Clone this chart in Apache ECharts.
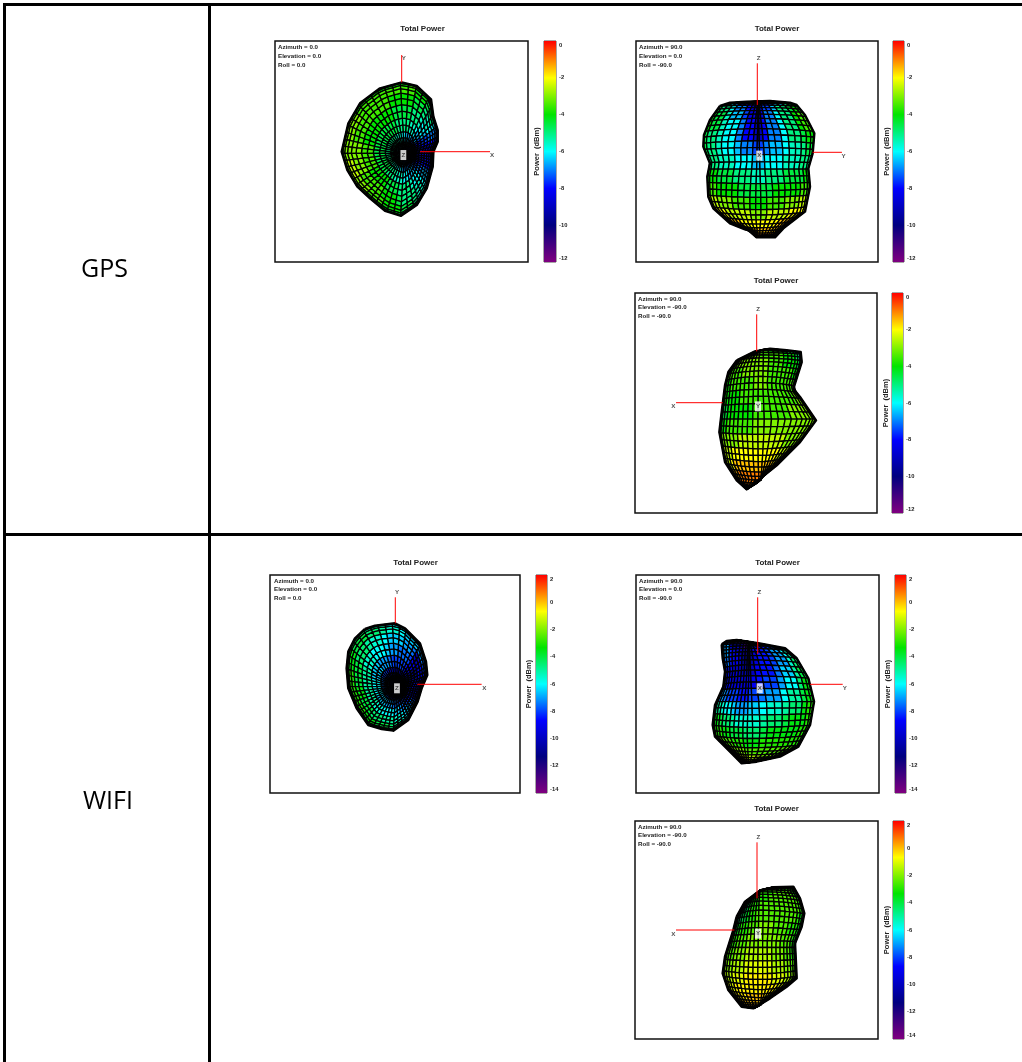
<!DOCTYPE html>
<html><head><meta charset="utf-8">
<style>html,body{margin:0;padding:0;background:#fff}#c{width:1022px;height:1062px}</style>
<script src="https://cdn.jsdelivr.net/npm/echarts@6/dist/echarts.min.js"></script>
</head><body><div id="c"></div>
<script>
// Outlines of each radiation lobe, in plot units from the axes' crossing (x right, y up)
const p1Outline=[[0,208],[45,197],[88,157],[95,105],[108,65],[108,30],[95,0],[93,-45],[75,-110],[45,-160],[-2,-192],[-50,-177],[-95,-140],[-133,-105],[-163,-55],[-180,0],[-160,85],[-125,145],[-65,190]];
const p2Outline=[[-112,139],[-82,149],[-32,152],[38,154],[98,149],[118,142],[143,112],[171,57],[166,-3],[153,-48],[158,-103],[143,-178],[78,-228],[53,-255],[-2,-255],[-27,-233],[-37,-231],[-82,-213],[-132,-168],[-147,-133],[-150,-73],[-142,-33],[-162,17],[-160,52],[-142,97]];
const p3Outline=[[-60,127],[-5,154],[40,162],[90,157],[132,152],[135,122],[110,42],[130,17],[178,-53],[130,-118],[60,-188],[-30,-260],[-60,-233],[-95,-178],[-112,-88],[-105,-28],[-95,52],[-85,92]];
const p4Outline=[[-91,166],[-61,176],[-1,183],[29,168],[74,123],[92,68],[96,28],[79,-12],[67,-52],[39,-107],[-6,-139],[-41,-134],[-81,-122],[-116,-72],[-141,-12],[-146,48],[-141,98],[-121,138]];
const p5Outline=[[-108,120],[-93,130],[-63,133],[2,123],[82,108],[117,78],[152,18],[169,-52],[157,-122],[122,-187],[67,-217],[-3,-232],[-48,-237],[-83,-202],[-128,-157],[-135,-122],[-128,-62],[-103,-7],[-98,38],[-105,78]];
const p6Outline=[[-61,40],[-36,85],[4,115],[49,128],[109,130],[129,95],[142,50],[134,10],[114,-40],[116,-80],[119,-145],[89,-170],[39,-205],[-11,-235],[-46,-230],[-86,-180],[-103,-130],[-96,-80],[-71,0]];

// Power in dBm. Polar views: one row per 10-degree sector (counter-clockwise from +X), inner to outer ring.
const p1Power=[
[-11,-10,-10,-9.5,-9,-9,-9,-9],[-11,-10,-10,-9,-9,-8.5,-8.5,-9],[-11,-10,-9,-8.5,-8,-8,-8,-9],[-11,-9,-8.5,-8,-7.5,-7,-7,-8],
[-10,-9,-8,-7.5,-6.5,-6,-6,-7],[-10,-8.5,-7.5,-6.5,-6,-5.5,-5,-5.5],[-9,-8,-7,-6,-5.5,-5,-4.5,-5],[-9,-7.5,-6.5,-5.5,-5,-4.5,-4,-4],
[-9,-7.5,-6.5,-5,-4.5,-4,-3.5,-3.5],[-8.5,-7,-6,-5,-4.5,-4,-3.5,-4],[-8,-6.5,-5.5,-5,-4.5,-4,-3.5,-4],[-8,-6.5,-5.5,-4.5,-4,-3.5,-3.5,-4],
[-8,-6,-5,-4.5,-4,-3.5,-3.5,-4],[-8,-6,-5,-4.5,-4,-3.5,-3.5,-4],[-8,-6,-5,-4.5,-4,-3.5,-3,-3.5],[-8,-6,-5,-4.5,-4,-3.5,-3,-3],
[-8,-6,-5,-4.5,-4,-3.5,-3,-3],[-8,-6,-5,-4.5,-3.5,-3,-3,-3],[-8,-6,-5,-4.5,-3.5,-3,-3,-3],[-8,-6,-5,-4.5,-3.5,-3,-2.5,-3],
[-8,-6,-5,-4.5,-3.5,-3,-2.5,-3],[-8,-6,-5,-4.5,-4,-3.5,-3,-3],[-8,-6.5,-5.5,-4.5,-4,-3.5,-3,-3.5],[-8.5,-7,-5.5,-5,-4,-3.5,-3.5,-4],
[-8.5,-7,-6,-5,-4.5,-4,-3.5,-4],[-9,-7,-6,-5.5,-4.5,-4,-4,-4.5],[-9,-7.5,-6.5,-5.5,-5,-4.5,-4,-4.5],[-9.5,-8,-7,-6,-5,-5,-4.5,-5],
[-10,-8,-7,-6.5,-5.5,-5,-5,-5],[-10,-8.5,-7.5,-6.5,-6,-5.5,-5.5,-5.5],[-10,-9,-8,-7,-6,-6,-6,-6],[-10.5,-9,-8.5,-7.5,-7,-6.5,-6.5,-7],
[-11,-9.5,-9,-8,-7.5,-7,-7,-7.5],[-11,-10,-9,-8.5,-8,-8,-8,-8],[-11,-10,-9.5,-9,-8.5,-8.5,-8.5,-8.5],[-11,-10,-10,-9.5,-9,-9,-9,-9]];
const p4Power=[
[-12,-11,-10.5,-10,-9.5,-9.5,-9.5,-10],[-12,-11,-10.5,-10,-9.5,-9,-9,-9.5],[-12,-11.5,-11,-10.5,-10,-9,-8.5,-9],[-12,-12,-11.5,-11.5,-11,-9,-8,-8.5],
[-12,-11.5,-11,-10.5,-11,-10,-7.5,-8],[-12,-11,-10,-9,-9,-10,-7,-7.5],[-12,-10.5,-9.5,-8.5,-8,-7.5,-6.5,-6.5],[-12,-10.5,-9,-8,-7.5,-7,-6.5,-6.5],
[-12,-10,-9,-8,-7.5,-6.5,-6,-6],[-11.5,-10,-9,-8,-7,-6.5,-5.5,-6],[-11.5,-10,-8.5,-7.5,-6.5,-6,-5,-5],[-11,-9.5,-8.5,-7,-6,-5.5,-4.5,-5],
[-11,-9.5,-8,-7,-6,-5,-4,-4.5],[-11,-9,-8,-6.5,-5.5,-4.5,-4,-4],[-11,-9,-8,-6.5,-5.5,-4.5,-3.5,-4],[-11,-9,-7.5,-6.5,-5,-4,-3.5,-3.5],
[-11,-9,-7.5,-6,-5,-4,-3,-3.5],[-11,-9,-7.5,-6,-5,-4,-3,-3],[-11,-9,-7.5,-6,-5,-3.5,-3,-3],[-11,-9,-7.5,-6,-5,-3.5,-3,-3],
[-11,-9,-7.5,-6,-5,-4,-3,-3.5],[-11,-9,-8,-6.5,-5,-4,-3,-3.5],[-11,-9,-8,-6.5,-5.5,-4,-3.5,-3.5],[-11,-9.5,-8,-6.5,-5.5,-4.5,-3.5,-4],
[-11.5,-9.5,-8,-7,-6,-4.5,-4,-4],[-11.5,-10,-8.5,-7,-6,-5,-4,-4.5],[-11.5,-10,-8.5,-7.5,-6,-5,-4.5,-4.5],[-12,-10,-9,-7.5,-6.5,-5.5,-5,-5],
[-12,-10.5,-9,-8,-7,-6,-5.5,-5.5],[-12,-10.5,-9.5,-8,-7.5,-6.5,-6,-6],[-12,-11,-9.5,-8.5,-8,-7,-6.5,-7],[-12,-11,-10,-9,-8.5,-7.5,-7,-7.5],
[-12,-11,-10,-9.5,-9,-8,-8,-8.5],[-12,-11,-10.5,-10,-9,-9,-9,-9],[-12,-11,-10.5,-10,-9.5,-9.5,-9.5,-10],[-12,-11,-10.5,-10,-9.5,-9.5,-9.5,-10]];
// Front views: one row per band, top to bottom, left to right across the lobe.
const p2Power=[
[-6,-8,-9,-10,-10,-11,-11.5,-11.5,-11,-10,-9,-8,-7,-6],
[-5,-6,-7,-8,-9,-10,-11,-11,-10,-8.5,-7.5,-6.5,-5,-4.5],
[-4.5,-5,-6,-7,-8,-9,-10.5,-10.5,-9,-7.5,-6.5,-5,-4.5,-4],
[-4,-4.5,-5.5,-6.5,-7.5,-8.5,-10,-10,-8.5,-7,-6,-5,-4,-3.5],
[-4,-4.5,-5.5,-6,-7,-8,-9.5,-9.5,-8,-7,-6,-5,-4,-3.5],
[-4.5,-5,-5.5,-6,-7,-8,-9,-9,-8,-7,-6,-5,-4.5,-4],
[-4.5,-5,-5.5,-6,-6.5,-7,-7.5,-7.5,-7,-6.5,-6,-5.5,-5,-4.5],
[-5,-5,-5.5,-5.5,-6,-6,-6.5,-6.5,-6,-6,-5.5,-5.5,-5,-5],
[-4,-4,-4.5,-4.5,-5,-5,-5.5,-5.5,-5,-5,-4.5,-4.5,-4.5,-4],
[-3.5,-3.5,-4,-4,-4,-4.5,-4.5,-4.5,-4.5,-4,-4,-4,-3.5,-3.5],
[-2.5,-2.5,-3,-3,-3.5,-3.5,-4,-4,-3.5,-3.5,-3,-3,-2.5,-2.5],
[-2,-2,-2,-2.5,-2.5,-2.5,-3,-3,-2.5,-2.5,-2.5,-2,-2,-2],
[-1.5,-1.5,-1.5,-1.5,-2,-2,-2,-2,-2,-2,-1.5,-1.5,-1.5,-1.5],
[-1.5,-1.5,-1.5,-1.5,-1.5,-1.5,-1.5,-1.5,-1.5,-1.5,-1.5,-1.5,-1.5,-1.5],
[-1,-1,-1,-1,-1,-1,-1,-1,-1,-1,-1,-1,-1,-1],
[-1,-1,-1,-1,-1,-1,-1,-1,-1,-1,-1,-1,-1,-1]];
const p3Power=[
[-4.5,-4.5,-4.5,-4.5,-4.5,-4.5,-4.5,-4.5,-5,-5,-5,-5,-5.5,-6],
[-4,-4,-3.5,-3.5,-3.5,-3.5,-3.5,-3.5,-4,-4,-4,-4.5,-5,-5.5],
[-4,-3.5,-3.5,-3,-3,-3,-3,-3.5,-3.5,-3.5,-4,-4,-4.5,-5],
[-4,-3.5,-3,-3,-3,-3,-3,-3,-3.5,-3.5,-4,-4,-4,-4.5],
[-4,-3.5,-3.5,-3.5,-3,-3,-3,-3,-3.5,-3.5,-3.5,-3.5,-4,-4],
[-4,-4,-3.5,-3.5,-3.5,-3.5,-3,-3,-3.5,-3.5,-3.5,-3.5,-3.5,-3.5],
[-4.5,-4,-4,-4,-3.5,-3.5,-3.5,-3.5,-3.5,-3.5,-3.5,-3.5,-3,-3],
[-4.5,-4.5,-4,-4,-4,-4,-3.5,-3.5,-3.5,-3.5,-3,-3,-3,-3],
[-4,-4,-3.5,-3.5,-3.5,-3.5,-3,-3,-3,-3,-3,-3,-3,-3],
[-3.5,-3,-3,-3,-2.5,-2.5,-2.5,-2.5,-2.5,-2.5,-3,-3,-3,-3],
[-3,-2.5,-2.5,-2,-2,-2,-2,-2,-2,-2,-2.5,-2.5,-2.5,-3],
[-2.5,-2.5,-2,-1.5,-1.5,-1.5,-1.5,-1.5,-1.5,-1.5,-2,-2,-2.5,-2.5],
[-2,-1.5,-1.5,-1,-1,-1,-1,-1,-1,-1,-1.5,-1.5,-2,-2],
[-1.5,-1.5,-1,-1,-1,-1,-1,-1,-1,-1,-1,-1.5,-1.5,-2],
[-1.5,-1,-1,-1,-1,-1,-1,-1,-1,-1,-1,-1,-1.5,-1.5],
[-1,-1,-1,-1,-1,-1,-1,-1,-1,-1,-1,-1,-1,-1.5]];
const p5Power=[
[-8,-10,-12,-13,-13,-13,-13,-13,-13,-12,-11,-10,-9,-8],
[-6,-8,-11,-12,-13,-13,-13,-13,-12,-11,-10,-9,-8,-7],
[-6,-7,-9,-10.5,-11.5,-12.5,-13,-12.5,-11,-10,-9,-8,-7,-6],
[-6.5,-7,-8.5,-9.5,-10.5,-11.5,-12,-11,-9.5,-8.5,-8,-7,-6,-5],
[-7,-7.5,-8.5,-9,-10,-11,-11.5,-10.5,-9.5,-8.5,-8,-7,-5.5,-4.5],
[-8,-8.5,-9,-9.5,-10,-10.5,-11,-10,-9,-8.5,-7.5,-6.5,-5,-4],
[-8,-8.5,-9,-9.5,-9.5,-9.5,-9.5,-9,-8.5,-8,-7,-6,-4.5,-3.5],
[-6.5,-7,-7.5,-8,-8,-8.5,-8.5,-8,-7.5,-7,-6,-5,-4,-3.5],
[-4.5,-5,-5.5,-6,-6.5,-7,-7,-6.5,-6,-5.5,-5,-4.5,-3.5,-3],
[-3.5,-3.5,-4,-4.5,-5,-5.5,-5.5,-5.5,-5,-4.5,-4,-3.5,-3.5,-3],
[-3,-3,-3,-3.5,-4,-4,-4.5,-4.5,-4,-3.5,-3.5,-3.5,-3,-3],
[-2,-2,-2.5,-2.5,-3,-3,-3.5,-3.5,-3,-3,-3,-3,-3,-3],
[-1.5,-1.5,-1.5,-2,-2,-2,-2.5,-2.5,-2.5,-2.5,-2.5,-2.5,-2.5,-2.5],
[-1,-1,-1,-1,-1,-1,-1.5,-1.5,-1.5,-2,-2,-2,-2,-2.5],
[-.5,-.5,-.5,-.5,-.5,-1,-1,-1,-1,-1.5,-1.5,-2,-2,-2],
[-.5,-.5,-.5,-.5,-.5,-.5,-1,-1,-1,-1,-1.5,-1.5,-2,-2]];
const p6Power=[
[-8,-8,-7.5,-7,-6,-5,-4.5,-4,-4,-3.5,-3.5,-3.5,-4,-5],
[-9,-8,-7,-6,-5,-4.5,-4,-3.5,-3,-3,-3,-3,-3.5,-4],
[-9,-8,-7,-5.5,-4.5,-4,-3.5,-3,-3,-2.5,-2.5,-2.5,-3,-3.5],
[-8,-7,-6,-5,-4,-3.5,-3,-3,-2.5,-2.5,-2.5,-2.5,-2.5,-3],
[-7,-6,-5,-4.5,-3.5,-3,-3,-2.5,-2.5,-2.5,-2.5,-2.5,-2.5,-3],
[-6,-5,-4.5,-4,-3.5,-3,-2.5,-2.5,-2.5,-2.5,-2.5,-2.5,-3,-3.5],
[-4.5,-4,-3.5,-3,-3,-2.5,-2.5,-2,-2,-2.5,-2.5,-3,-3,-3.5],
[-3.5,-3,-3,-2.5,-2.5,-2,-2,-2,-2,-2,-2.5,-2.5,-3,-3.5],
[-3,-2.5,-2.5,-2,-2,-1.5,-1.5,-1.5,-1.5,-2,-2,-2.5,-3,-3],
[-2.5,-2,-2,-1.5,-1.5,-1,-1,-1,-1,-1.5,-1.5,-2,-2.5,-2.5],
[-2,-1.5,-1.5,-1,-1,-.5,-.5,-.5,-.5,-1,-1,-1.5,-2,-2],
[-1.5,-1,-1,-.5,-.5,-.5,-.5,-.5,-.5,-.5,-1,-1,-1.5,-1.5],
[-1,-1,-.5,-.5,-.5,0,0,0,-.5,-.5,-.5,-1,-1,-1],
[-1,-.5,-.5,0,0,0,0,-.5,-.5,-.5,-1,-1,-1,-1],
[-1,-.5,-.5,0,0,0,0,-.5,-.5,-.5,-1,-1,-1,-1],
[-1,-.5,-.5,-.5,-.5,-.5,-.5,-.5,-.5,-.5,-.5,-1,-1,-1]];

// Reference axes: [start, end] of each red line and letters
const p1Axes=[[[0,208],[0,290]],[[55,0],[265,0]]], p1Letters=[['Y',6,280],['X',271,-11],['Z',5,-10,1]];
const p2Axes=[[[0,142],[0,267]],[[166,0],[254,0]]], p2Letters=[['Z',4,281],['Y',259,-12],['X',6,-10,1]];
const p3Axes=[[[0,154],[0,265]],[[-102,0],[-242,0]]], p3Letters=[['Z',4,279],['X',-250,-11],['Y',4,-11,1]];
const p4Axes=[[[0,183],[0,261]],[[66,0],[259,0]]], p4Letters=[['Y',5,275],['X',267,-12],['Z',5,-12,1]];
const p5Axes=[[[0,91],[0,261]],[[157,0],[255,0]]], p5Letters=[['Z',5,275],['Y',261,-12],['X',6,-12,1]];
const p6Axes=[[[0,95],[0,263]],[[-68,0],[-243,0]]], p6Letters=[['Z',4,277],['X',-251,-13],['Y',3,-11,1]];

const rowLabels=['GPS','WIFI'];
const viewAngles=[['0.0','0.0','0.0'],['90.0','0.0','-90.0'],['90.0','-90.0','-90.0']];
const gpsRange=[-12,0], wifiRange=[-14,2];
const jet=['#7f007f','#00007f','#0000ff','#00ffff','#00e400','#ffff00','#ff0000'];

const panels=[
 {mode:'polar',out:p1Outline,pow:p1Power,axes:p1Axes,letters:p1Letters,range:gpsRange,view:0,L:275,R:528,T:41,B:262,ox:401.7,oy:151.7,tx:422.5,ty:29,ax:278,ay:47.5,bL:544,bR:556,gap:3,c:[8,-5]},
 {mode:'scan',out:p2Outline,pow:p2Power,axes:p2Axes,letters:p2Letters,range:gpsRange,view:1,L:636,R:878,T:41,B:262,ox:757.3,oy:152.3,tx:777,ty:29,ax:639,ay:47.5,bL:893,bR:904,gap:2,xc:3,pinch:2,bow:30},
 {mode:'scan',out:p3Outline,pow:p3Power,axes:p3Axes,letters:p3Letters,range:gpsRange,view:2,L:635,R:877,T:293,B:513,ox:756.7,oy:402.7,tx:776,ty:281,ax:638,ay:299,bL:892,bR:903,gap:2,xc:12,pinch:0,bow:40},
 {mode:'polar',out:p4Outline,pow:p4Power,axes:p4Axes,letters:p4Letters,range:wifiRange,view:0,L:270,R:520,T:575,B:793,ox:395.3,oy:684.3,tx:415.5,ty:563,ax:274,ay:581,bL:536,bR:547,gap:3,c:[2,-7]},
 {mode:'scan',out:p5Outline,pow:p5Power,axes:p5Axes,letters:p5Letters,range:wifiRange,view:1,L:636,R:879,T:575,B:793,ox:757.7,oy:684.3,tx:777.5,ty:563,ax:639,ay:581,bL:895,bR:906,gap:3,xc:-25,pinch:1.5,bow:30},
 {mode:'scan',out:p6Outline,pow:p6Power,axes:p6Axes,letters:p6Letters,range:wifiRange,view:2,L:635,R:878,T:821,B:1039,ox:757,oy:930,tx:776.5,ty:809,ax:638,ay:827,bL:893,bR:904,gap:2,xc:10,pinch:0,bow:40}
];

const UNIT=3, SPOKES=54, RINGS=16, COLS=21, ROWS=32;
function ray(poly,c,th){
  const dx=Math.cos(th),dy=Math.sin(th);let best=0;
  for(let i=0;i<poly.length;i++){
    const a=poly[i],b=poly[(i+1)%poly.length];
    const ex=b[0]-a[0],ey=b[1]-a[1],den=dx*ey-dy*ex;
    if(Math.abs(den)<1e-9)continue;
    const t=((a[0]-c[0])*ey-(a[1]-c[1])*ex)/den, s=((a[0]-c[0])*dy-(a[1]-c[1])*dx)/den;
    if(t>best&&s>=0&&s<=1)best=t;
  }
  return best;
}
function scan(poly,y){
  let lo=Infinity,hi=-Infinity;
  for(let i=0;i<poly.length;i++){
    const a=poly[i],b=poly[(i+1)%poly.length];
    if((y>=Math.min(a[1],b[1]))&&(y<=Math.max(a[1],b[1]))){
      const x=a[1]===b[1]?a[0]:a[0]+(b[0]-a[0])*(y-a[1])/(b[1]-a[1]);
      if(x<lo)lo=x;if(x>hi)hi=x;
    }
  }
  return [lo,hi];
}
function polarNode(p,i,j){
  const th=i/SPOKES*2*Math.PI,R=ray(p.out,p.c,th),f=(1-Math.cos(Math.PI*j/RINGS))/2;
  return [p.c[0]+f*R*Math.cos(th),p.c[1]+f*R*Math.sin(th)];
}
function scanNode(p,i,j){
  const ys=p.out.map(q=>q[1]),yT=Math.max(...ys),yB=Math.min(...ys),s=j/ROWS;
  const y=yT+(yB-yT)*(1-Math.cos(Math.PI*s))/2,[lo,hi]=scan(p.out,y);
  const u=i/COLS*2-1,sv=.7*Math.sin(Math.PI/2*u)+.3*u,e=1+p.pinch*Math.pow(1-s,3),X=Math.sign(sv)*Math.pow(Math.abs(sv),e);
  const xc=Math.min(hi,Math.max(lo,p.xc));
  const q=Math.sin(Math.PI*s),yy=y+p.bow*(1-X*X)*(1-2*s)*q*q;
  return [X<0?xc+X*(xc-lo):xc+X*(hi-xc),yy];
}
function meshSeries(p,xi,yi){
  const nodes={};
  const node=(i,j)=>{const k=i+'_'+j;if(!nodes[k])nodes[k]=p.mode==='polar'?polarNode(p,i,j):scanNode(p,i,j);return nodes[k];};
  const data=[];
  p.pow.forEach((row,r)=>row.forEach((v,c)=>data.push([r,c,v])));
  return {type:'custom',xAxisIndex:xi,yAxisIndex:yi,animation:false,progressive:0,silent:true,clip:false,data:data,
    encode:{x:-1,y:-1},
    renderItem(params,api){
      const r=api.value(0),c=api.value(1),fill=api.visual('color'),children=[];
      const wide=p.mode==='polar'?r:c, deep=p.mode==='polar'?c:r;
      const i0=Math.floor(wide*1.5),i1=Math.floor((wide+1)*1.5);
      for(let a=i0;a<i1;a++)for(let b=0;b<2;b++){
        const j=deep*2+b;
        const pts=[node(a,j),node(a+1,j),node(a+1,j+1),node(a,j+1)].map(q=>api.coord(q));
        children.push({type:'polygon',shape:{points:pts},style:{fill:fill,stroke:'#000',lineWidth:1.3,lineJoin:'round'}});
      }
      return {type:'group',children:children};
    }};
}
const F='"Liberation Sans",Arial,sans-serif';
const grid=[],xAxis=[],yAxis=[],series=[],visualMap=[],title=[];
panels.forEach(p=>{
  const gi=grid.length;
  grid.push({left:p.L,top:p.T,width:p.R-p.L,height:p.B-p.T,show:true,borderColor:'#111',borderWidth:1.5,backgroundColor:'#fff'});
  grid.push({left:p.bL,top:p.T,width:p.bR-p.bL,height:p.B-p.T,show:true,borderColor:'#222',borderWidth:.8});
  const xi=xAxis.length,yi=yAxis.length;
  xAxis.push({type:'value',gridIndex:gi,show:false,min:(p.L-p.ox)*UNIT,max:(p.R-p.ox)*UNIT});
  xAxis.push({type:'value',gridIndex:gi+1,show:false,min:0,max:1});
  yAxis.push({type:'value',gridIndex:gi,show:false,min:(p.oy-p.B)*UNIT,max:(p.oy-p.T)*UNIT});
  yAxis.push({type:'value',gridIndex:gi+1,position:'right',min:p.range[0],max:p.range[1],interval:2,
    axisLine:{show:false},axisTick:{show:false},splitLine:{show:false},
    axisLabel:{margin:3,fontFamily:F,fontWeight:'bold',fontSize:5.8,lineHeight:8,color:'#222',verticalAlignMaxLabel:'top',verticalAlignMinLabel:'bottom'}});
  yAxis.push({type:'value',gridIndex:gi+1,position:'left',min:p.range[0],max:p.range[1],name:'Power  (dBm)',nameLocation:'middle',nameRotate:90,nameGap:p.gap,
    nameTextStyle:{fontFamily:F,fontWeight:'bold',fontSize:7.5,color:'#222'},
    axisLine:{show:false},axisTick:{show:false},axisLabel:{show:false},splitLine:{show:false}});
  const mi=series.length;
  series.push(meshSeries(p,xi,yi));
  visualMap.push({type:'continuous',show:false,seriesIndex:mi,dimension:2,min:p.range[0],max:p.range[1],inRange:{color:jet}});
  series.push({type:'line',xAxisIndex:xi,yAxisIndex:yi,data:p.out.concat([p.out[0]]),symbol:'none',silent:true,animation:false,clip:false,lineStyle:{color:'#000',width:2.5,join:'round'}});
  p.axes.forEach(seg=>series.push({type:'line',xAxisIndex:xi,yAxisIndex:yi,data:seg,symbol:'none',silent:true,animation:false,lineStyle:{color:'#ff0000',width:1}}));
  series.push({type:'scatter',xAxisIndex:xi,yAxisIndex:yi,symbolSize:1,silent:true,animation:false,itemStyle:{color:'transparent'},
    data:p.letters.map(l=>({value:[l[1],l[2]],name:l[0],label:l[3]?{backgroundColor:'#fff',padding:[2,1]}:{}})),
    label:{show:true,position:'inside',formatter:'{b}',fontFamily:F,fontWeight:'bold',fontSize:6.2,color:'#222'}});
  series.push({type:'custom',xAxisIndex:xi+1,yAxisIndex:yi+1,animation:false,silent:true,data:[[0,p.range[0],p.range[1]]],encode:{x:0,y:[1,2]},
    renderItem(params,api){
      const a=api.coord([0,api.value(2)]),b=api.coord([1,api.value(1)]);
      return {type:'rect',shape:{x:a[0],y:a[1],width:b[0]-a[0],height:b[1]-a[1]},
        style:{fill:new echarts.graphic.LinearGradient(0,1,0,0,jet.map((c,i)=>({offset:i/(jet.length-1),color:c})))}};
    }});
  title.push({text:'Total Power',left:p.tx,top:p.ty-4,padding:0,textAlign:'center',textStyle:{fontFamily:F,fontWeight:'bold',fontSize:8,color:'#222',lineHeight:8}});
  const v=viewAngles[p.view];
  title.push({text:'Azimuth = '+v[0]+'\nElevation = '+v[1]+'\nRoll = '+v[2],left:p.ax,top:p.ay-4.5,padding:0,textStyle:{fontFamily:F,fontWeight:'bold',fontSize:6.2,color:'#222',lineHeight:8.8}});
});
const G='"Open Sans",sans-serif';
title.push({text:rowLabels[0],left:104.5,top:254,textAlign:'center',padding:0,textStyle:{fontFamily:G,fontWeight:'normal',fontSize:25,color:'#000',lineHeight:32}});
title.push({text:rowLabels[1],left:108,top:786,textAlign:'center',padding:0,textStyle:{fontFamily:G,fontWeight:'normal',fontSize:25,color:'#000',lineHeight:32}});
const rule=(x1,y1,x2,y2)=>({type:'line',shape:{x1,y1,x2,y2},style:{stroke:'#000',lineWidth:3},silent:true});
const chart=echarts.init(document.getElementById('c'),null,{width:1022,height:1062});
chart.setOption({animation:false,backgroundColor:'#fff',title,grid,xAxis,yAxis,visualMap,series,
  graphic:[rule(3,4.5,1022,4.5),rule(4.5,3,4.5,1062),rule(209.5,3,209.5,1062),rule(3,534.5,1022,534.5)]});
</script></body></html>
